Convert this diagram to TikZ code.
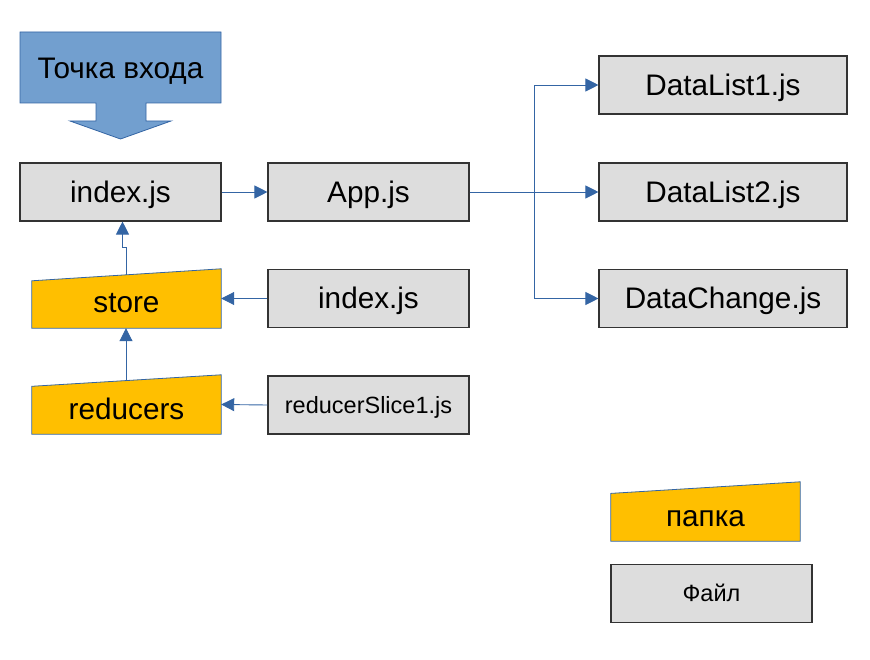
\documentclass[tikz,border=0pt]{standalone}
\usepackage{fontspec}
\setmainfont{Liberation Sans}
\usetikzlibrary{arrows.meta,backgrounds}
\definecolor{lblue}{HTML}{729FCF}
\definecolor{dblue}{HTML}{3465A4}
\definecolor{fgray}{HTML}{DDDDDD}
\definecolor{forange}{HTML}{FFBF00}
\definecolor{bordergray}{HTML}{333333}
\tikzset{
  bigfont/.style={font=\fontsize{29.7}{34}\selectfont, text height=26.9pt, text depth=6.3pt},
  smallfont/.style={font=\fontsize{23.5}{27}\selectfont, text height=21.3pt, text depth=5pt},
  filebox/.style={draw=bordergray, fill=fgray, line width=1.1pt, minimum width=201pt, minimum height=58pt, inner sep=0pt, bigfont},
  widebox/.style={filebox, minimum width=248pt},
  folderframe/.style={inner sep=0pt, minimum width=189pt, minimum height=59pt},
  folderfill/.style={draw=dblue, fill=forange, line width=0.8pt},
  foldertext/.style={inner sep=0pt, bigfont},
  conn/.style={draw=dblue, line width=0.9pt, -{Triangle[length=13pt,width=13pt]}},
  plainline/.style={draw=dblue, line width=0.9pt},
}
\begin{document}
\begin{tikzpicture}[x=1pt,y=-1pt]
\useasboundingbox (0,0) rectangle (870,660);

% entry block arrow
\draw[draw=dblue, fill=lblue, line width=0.8pt]
  (20,32) -- (221,32) -- (221,103) -- (146,103) -- (146,121) -- (171,121) -- (120.5,139)
  -- (70,121) -- (96,121) -- (96,103) -- (20,103) -- cycle;
\node[bigfont, inner sep=0pt] (entry) at (120.5,68) {Точка входа};

% file boxes
\node[filebox] (index) at (120.5,192) {index.js};
\node[filebox] (app) at (368.5,192) {App.js};
\node[filebox] (index2) at (368.5,298.5) {index.js};
\node[filebox, smallfont] (slice) at (368.5,405) {reducerSlice1.js};
\node[widebox] (dl1) at (723,85) {DataList1.js};
\node[widebox] (dl2) at (723,192) {DataList2.js};
\node[widebox] (dch) at (723,298.5) {DataChange.js};
\node[filebox, smallfont] (file) at (711.5,593.5) {Файл};

% folders
\node[folderframe] (store) at (126.5,298.5) {};
\node[folderframe] (reducers) at (126.5,404.5) {};
\node[folderframe] (folder) at (705.5,511.5) {};
\begin{scope}[on background layer]
\foreach \f/\s in {store/12, reducers/11.5, folder/11.6}{
  \draw[folderfill] (\f.south west) -- (\f.south east) -- (\f.north east)
    -- ([yshift=-\s pt]\f.north west) -- cycle;
}
\end{scope}
\node[foldertext] (storetxt) at ([yshift=-4pt]store.center) {store};
\node[foldertext] (reducerstxt) at ([yshift=-5pt]reducers.center) {reducers};
\node[foldertext] (foldertxt) at ([yshift=-5pt]folder.center) {папка};

% connectors
\draw[conn] (index.east) -- (app.west);
\coordinate (junc) at (534,192);
\draw[plainline] (app.east) -- (junc);
\draw[conn] (junc) |- (dl1.west);
\draw[conn] (junc) -- (dl2.west);
\draw[conn] (junc) |- (dch.west);
\draw[conn] (index2.west) -- (store.east);
\draw[conn] (slice.west) -- (reducers.east);
\coordinate (rtop) at (126,381);
\draw[conn] (rtop) -- (rtop |- store.south);
\coordinate (stop) at (126,275);
\coordinate (jog1) at (126,247);
\coordinate (jog2) at (122.5,247);
\draw[conn] (stop) -- (jog1) -- (jog2) -- (jog2 |- index.south);
\end{tikzpicture}
\end{document}
